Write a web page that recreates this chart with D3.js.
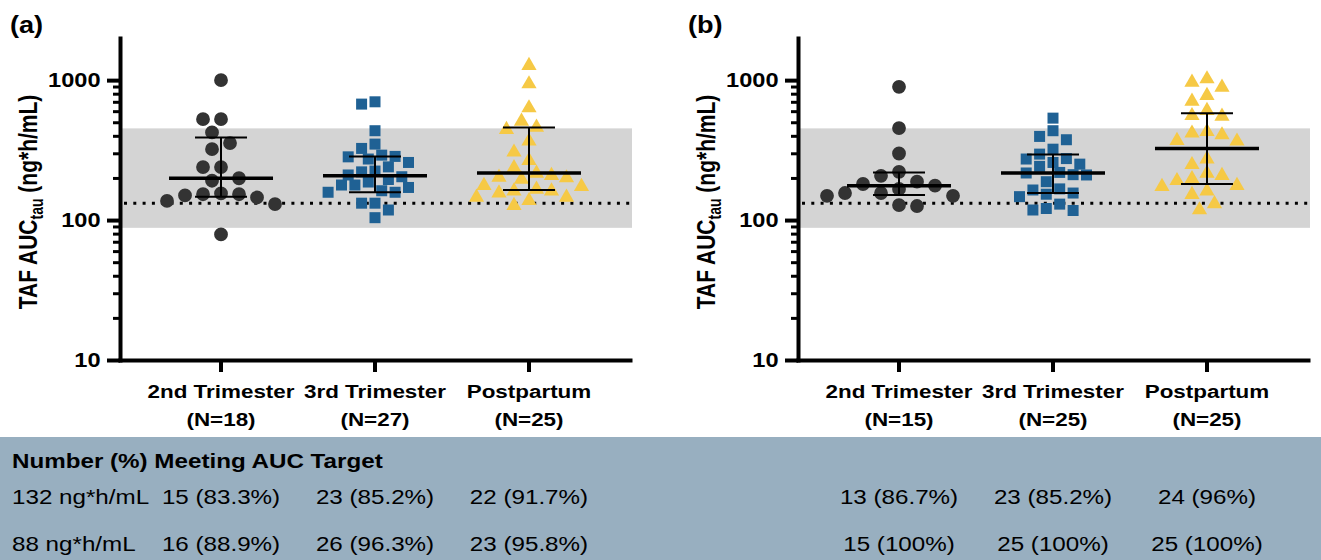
<!DOCTYPE html>
<html>
<head>
<meta charset="utf-8">
<script src="https://cdn.jsdelivr.net/npm/d3@7"></script>
<style>
  body { margin: 0; background: #fff; }
  text { font-family: "Liberation Sans", Arial, Helvetica, sans-serif; }
</style>
</head>
<body>
<script>
// ---- data ----
let groups = ["2nd Trimester", "3rd Trimester", "Postpartum"];
let nA = [18, 27, 25];
let nB = [15, 25, 25];

let a2nd = [1000, 526, 526, 423, 355, 321, 239, 239, 199, 191, 153, 150, 153, 155, 145, 137, 130, 79];
let a3rd = [700, 674, 435, 349, 325, 291, 285, 283, 273, 258, 240, 224, 221, 210, 204, 195, 187, 178, 178, 171, 162, 158, 158, 132, 132, 118, 104];
let aPost = [1301, 962, 649, 520, 472, 454, 375, 313, 273, 242, 221, 213, 207, 205, 200, 181, 178, 170, 165, 165, 160, 149, 149, 141, 130];

let b2nd = [896, 454, 299, 221, 207, 188, 181, 176, 167, 156, 156, 149, 149, 128, 126];
let b3rd = [535, 435, 396, 375, 321, 296, 275, 273, 258, 251, 242, 219, 217, 211, 210, 188, 167, 164, 156, 153, 147, 130, 121, 118, 117];
let bPost = [1045, 988, 911, 794, 723, 621, 571, 565, 439, 428, 416, 379, 375, 280, 255, 221, 213, 202, 196, 181, 178, 165, 156, 134, 121];

// median with interquartile range
let medianA = [199, 207, 217];
let upperA = [389, 285, 459];
let lowerA = [147, 158, 164];
let medianB = [176, 217, 325];
let upperB = [219, 294, 581];
let lowerB = [151, 156, 181];

let targetAUC = 132;
let bandLow = 88;
let bandHigh = 452;
let yMajor = [10, 100, 1000];
let yMinor = [20, 30, 40, 50, 60, 70, 80, 90, 200, 300, 400, 500, 600, 700, 800, 900];

let tableTitle = "Number (%) Meeting AUC Target";
let tableRows = ["132 ng*h/mL", "88 ng*h/mL"];
let meetA = [["15 (83.3%)", "23 (85.2%)", "22 (91.7%)"], ["16 (88.9%)", "26 (96.3%)", "23 (95.8%)"]];
let meetB = [["13 (86.7%)", "23 (85.2%)", "24 (96%)"], ["15 (100%)", "25 (100%)", "25 (100%)"]];

// ---- look ----
let width = 1321;
let height = 560;
let sx = 1.18; // the figure's text is a bit wide
let colors = ["#333333", "#1f6194", "#f6c945"];
let shapes = [d3.symbolCircle, d3.symbolSquare, d3.symbolTriangle];
let sizes = [150, 121, 100];
let steps = [18, 13.4, 15];
let gaps = [15, 12, 13.5];

let svg = d3.select("body").append("svg")
    .attr("width", width)
    .attr("height", height);

let y = d3.scaleLog().domain([10, 2000]).range([360, 38]);

// simple beeswarm: central column first, then step outwards
let swarm = (values, step, D) => {
    let pts = values.map(v => ({ v: v, py: y(v), off: 0 })).sort((a, b) => a.py - b.py);
    let placed = [];
    let h = step / 2;
    pts.forEach(p => {
        for (let k = 0; k < 60; k++) {
            let off = k === 0 ? 0 : (k % 2 ? -1 : 1) * Math.ceil(k / 2) * h;
            let ok = placed.every(q => (q.off - off) ** 2 + (q.py - p.py) ** 2 >= D * D);
            if (ok) { p.off = off; break; }
        }
        placed.push(p);
    });
    return pts;
};

let drawPanel = (dx, tag, series, ns, med, hi, lo) => {
    let g = svg.append("g");
    let x = d3.scaleBand().domain(groups)
        .range([118 + dx, 632 + dx])
        .paddingInner(0)
        .paddingOuter(0.169);
    let cx = d => x(d) + x.bandwidth() / 2;

    // reference band and target line
    g.append("rect")
        .attr("x", x.range()[0] + 2)
        .attr("width", x.range()[1] - x.range()[0] - 2)
        .attr("y", y(bandHigh))
        .attr("height", y(bandLow) - y(bandHigh))
        .attr("fill", "#d4d4d4");

    g.append("line")
        .attr("x1", x.range()[0] + 6)
        .attr("x2", x.range()[1])
        .attr("y1", y(targetAUC))
        .attr("y2", y(targetAUC))
        .attr("stroke", "#000")
        .attr("stroke-width", 3)
        .attr("stroke-dasharray", "3,6.3");

    // points
    series.forEach((vals, i) => {
        let pts = swarm(vals, steps[i], gaps[i]);
        g.append("g").selectAll("path")
            .data(pts)
            .enter()
            .append("path")
            .attr("d", d3.symbol(shapes[i], sizes[i]))
            .attr("transform", p => "translate(" + (cx(groups[i]) + p.off) + "," + (i === 2 ? p.py + 1.5 : p.py) + ")")
            .attr("fill", colors[i]);
    });

    // median and IQR
    groups.forEach((grp, i) => {
        let c = cx(grp);
        g.append("line")
            .attr("x1", c).attr("x2", c)
            .attr("y1", y(lo[i])).attr("y2", y(hi[i]))
            .attr("stroke", "#000").attr("stroke-width", 2);
        [lo[i], hi[i]].forEach(v => {
            g.append("line")
                .attr("x1", c - 26).attr("x2", c + 26)
                .attr("y1", y(v)).attr("y2", y(v))
                .attr("stroke", "#000").attr("stroke-width", 2);
        });
        g.append("line")
            .attr("x1", c - 52).attr("x2", c + 52)
            .attr("y1", y(med[i])).attr("y2", y(med[i]))
            .attr("stroke", "#000").attr("stroke-width", 3.5);
    });

    // axes
    let yAxisMinor = d3.axisLeft(y).tickValues(yMinor).tickSize(7).tickSizeOuter(0).tickFormat("");
    g.append("g")
        .attr("transform", "translate(" + (120 + dx) + ",0)")
        .call(yAxisMinor)
        .call(a => a.select(".domain").remove())
        .call(a => a.selectAll("line").attr("stroke-width", 3));

    let yAxis = d3.axisLeft(y).tickValues(yMajor).tickSize(13).tickSizeOuter(0)
        .tickPadding(3.5).tickFormat(d3.format("d"));
    g.append("g")
        .attr("transform", "translate(" + (120 + dx) + ",0)")
        .call(yAxis)
        .call(a => a.select(".domain").attr("stroke-width", 4).attr("stroke-linecap", "square"))
        .call(a => a.selectAll("line").attr("stroke-width", 4))
        .call(a => a.selectAll("text")
            .attr("font-size", 20)
            .attr("font-weight", "bold")
            .attr("fill", "#000")
            .attr("font-family", "Liberation Sans, Arial, sans-serif")
            .attr("transform", "scale(" + sx + ",1)"));

    let xAxis = d3.axisBottom(x).tickSize(12).tickSizeOuter(0).tickFormat("");
    let xg = g.append("g")
        .attr("transform", "translate(0,360)")
        .call(xAxis)
        .call(a => a.select(".domain").attr("stroke-width", 4))
        .call(a => a.selectAll("line").attr("stroke-width", 4));

    xg.selectAll(".tick").each(function (d, i) {
        let t = d3.select(this).append("text")
            .attr("transform", "translate(0,38) scale(" + sx + ",1)")
            .attr("text-anchor", "middle")
            .attr("font-size", 19)
            .attr("font-weight", "bold")
            .attr("fill", "#000");
        t.append("tspan").attr("x", 0).attr("dy", 0).text(d);
        t.append("tspan").attr("x", 0).attr("dy", 28).text("(N=" + ns[i] + ")");
    });

    // axis title
    let title = g.append("text")
        .attr("transform", "translate(" + (37 + dx) + ",202) rotate(-90) scale(1," + 1.25 + ")")
        .attr("text-anchor", "middle")
        .attr("font-size", 21)
        .attr("font-weight", "bold");
    title.append("tspan").text("TAF AUC");
    title.append("tspan").attr("font-size", 14).attr("dy", 5).text("tau");
    title.append("tspan").attr("dy", -5).text(" (ng*h/mL)");

    // panel tag
    g.append("text")
        .attr("transform", "translate(" + (10 + dx) + ",33) scale(" + sx + ",1)")
        .attr("font-size", 23)
        .attr("font-weight", "bold")
        .text(tag);

    return x;
};

let xA = drawPanel(0, "(a)", [a2nd, a3rd, aPost], nA, medianA, upperA, lowerA);
let xB = drawPanel(678, "(b)", [b2nd, b3rd, bPost], nB, medianB, upperB, lowerB);

// ---- table under the plots ----
svg.append("rect")
    .attr("x", 0).attr("y", 437)
    .attr("width", width).attr("height", height - 437)
    .attr("fill", "#98afc0");

svg.append("text")
    .attr("transform", "translate(12,468) scale(" + sx + ",1)")
    .attr("font-size", 20.5)
    .attr("font-weight", "bold")
    .text(tableTitle);

let rowY = [504, 551];
tableRows.forEach((r, j) => {
    svg.append("text")
        .attr("transform", "translate(12," + rowY[j] + ") scale(" + sx + ",1)")
        .attr("font-size", 20.5)
        .text(r);
    [[xA, meetA], [xB, meetB]].forEach(([x, m]) => {
        groups.forEach((grp, i) => {
            svg.append("text")
                .attr("transform", "translate(" + (x(grp) + x.bandwidth() / 2) + "," + rowY[j] + ") scale(" + sx + ",1)")
                .attr("text-anchor", "middle")
                .attr("font-size", 20.5)
                .text(m[j][i]);
        });
    });
});
</script>
</body>
</html>
